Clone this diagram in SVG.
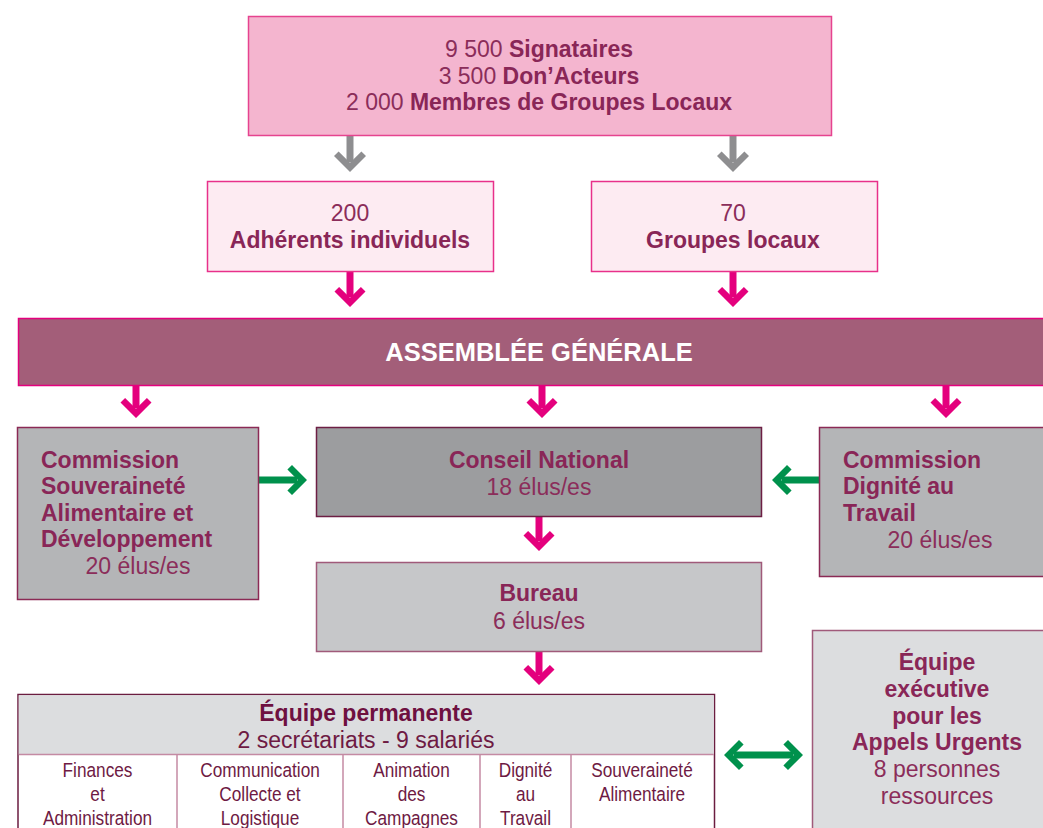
<svg xmlns="http://www.w3.org/2000/svg" width="1043" height="828" viewBox="0 0 1043 828">
<defs>
<style>
text{font-family:"Liberation Sans",Arial,Helvetica,sans-serif;font-size:23px;fill:#8b2d5a}
.b{font-weight:bold;fill:#892657}
.c{text-anchor:middle}
.w{fill:#ffffff;font-weight:bold;font-size:25.5px}
.h{font-size:23px;fill:#6e1a43}
.hb{font-size:23px;font-weight:bold;fill:#6e1040}
.t{font-size:20.5px;fill:#6e1a43;text-anchor:middle}
.gray{stroke:#8e8e90;stroke-width:7;fill:none}
.pink{stroke:#e4007d;stroke-width:7;fill:none}
.green{stroke:#00914c;stroke-width:7;fill:none}
</style>
<marker id="mg" viewBox="-21 -17 22 34" markerWidth="22" markerHeight="34" refX="-10" refY="0" orient="auto" markerUnits="userSpaceOnUse">
<path d="M0,0 L-16,-16 L-20.6,-11.4 L-9.2,0 L-20.6,11.4 L-16,16 Z" fill="#8e8e90"/>
</marker>
<marker id="mp" viewBox="-21 -17 22 34" markerWidth="22" markerHeight="34" refX="-10" refY="0" orient="auto" markerUnits="userSpaceOnUse">
<path d="M0,0 L-15.5,-15.5 L-20.1,-10.9 L-9.2,0 L-20.1,10.9 L-15.5,15.5 Z" fill="#e4007d"/>
</marker>
<marker id="mgr" viewBox="-21 -17 22 34" markerWidth="22" markerHeight="34" refX="-10" refY="0" orient="auto-start-reverse" markerUnits="userSpaceOnUse">
<path d="M0,0 L-15,-15 L-19.6,-10.4 L-9.2,0 L-19.6,10.4 L-15,15 Z" fill="#00914c"/>
</marker>
</defs>
<rect width="1043" height="828" fill="#ffffff"/>

<g id="connectors">
<line class="gray" x1="350" y1="136" x2="350" y2="162" marker-end="url(#mg)"/>
<line class="gray" x1="733" y1="136" x2="733" y2="162" marker-end="url(#mg)"/>
<line class="pink" x1="350" y1="272" x2="350" y2="297" marker-end="url(#mp)"/>
<line class="pink" x1="733" y1="272" x2="733" y2="297" marker-end="url(#mp)"/>
<line class="pink" x1="136" y1="386" x2="136" y2="408" marker-end="url(#mp)"/>
<line class="pink" x1="542" y1="386" x2="542" y2="408" marker-end="url(#mp)"/>
<line class="pink" x1="946" y1="386" x2="946" y2="408" marker-end="url(#mp)"/>
<line class="pink" x1="539" y1="517" x2="539" y2="541" marker-end="url(#mp)"/>
<line class="pink" x1="539" y1="652" x2="539" y2="675" marker-end="url(#mp)"/>
<line class="green" x1="259" y1="480" x2="297" y2="480" marker-end="url(#mgr)"/>
<line class="green" x1="819" y1="480" x2="782" y2="480" marker-end="url(#mgr)"/>
<line class="green" x1="734" y1="755" x2="793" y2="755" marker-start="url(#mgr)" marker-end="url(#mgr)"/>
</g>

<g id="membres">
<rect x="248.5" y="16.5" width="583" height="119" fill="#f4b5cf" stroke="#e6438f" stroke-width="1.5"/>
<text class="c" x="539" y="57">9 500 <tspan class="b">Signataires</tspan></text>
<text class="c" x="539" y="84">3 500 <tspan class="b">Don’Acteurs</tspan></text>
<text class="c" x="539" y="110">2 000 <tspan class="b">Membres de Groupes Locaux</tspan></text>
</g>

<g id="adherents">
<rect x="207.5" y="181.5" width="286" height="90" fill="#fdebf2" stroke="#e8308a" stroke-width="1.5"/>
<text class="c" x="350" y="221">200</text>
<text class="c b" x="350" y="248">Adhérents individuels</text>
</g>

<g id="groupes">
<rect x="591.5" y="181.5" width="286" height="90" fill="#fdebf2" stroke="#e8308a" stroke-width="1.5"/>
<text class="c" x="733" y="221">70</text>
<text class="c b" x="733" y="248">Groupes locaux</text>
</g>

<g id="assemblee">
<rect x="18.5" y="318.5" width="1030" height="67" fill="#a35e79" stroke="#e4007d" stroke-width="1.5"/>
<text class="c w" x="539" y="361">ASSEMBLÉE GÉNÉRALE</text>
</g>

<g id="commission-sad">
<rect x="17.5" y="427.5" width="241" height="172" fill="#b4b5b7" stroke="#8b2a55" stroke-width="1.5"/>
<text class="b" x="41" y="468">Commission</text>
<text class="b" x="41" y="494">Souveraineté</text>
<text class="b" x="41" y="521">Alimentaire et</text>
<text class="b" x="41" y="547">Développement</text>
<text class="c" x="138" y="574">20 élus/es</text>
</g>

<g id="conseil">
<rect x="316.5" y="427.5" width="445" height="89" fill="#9c9d9f" stroke="#6d1f44" stroke-width="1.5"/>
<text class="c b" x="539" y="468">Conseil National</text>
<text class="c" x="539" y="495">18 élus/es</text>
</g>

<g id="commission-dt">
<rect x="819.5" y="427.5" width="230" height="149" fill="#b4b5b7" stroke="#8b2a55" stroke-width="1.5"/>
<text class="b" x="843" y="468">Commission</text>
<text class="b" x="843" y="494">Dignité au</text>
<text class="b" x="843" y="521">Travail</text>
<text class="c" x="940" y="548">20 élus/es</text>
</g>

<g id="bureau">
<rect x="316.5" y="562.5" width="445" height="89" fill="#c6c7c9" stroke="#a05a7a" stroke-width="1.5"/>
<text class="c b" x="539" y="601">Bureau</text>
<text class="c" x="539" y="629">6 élus/es</text>
</g>

<g id="equipe-permanente">
<rect x="18" y="694.5" width="696.5" height="140" fill="#ffffff" stroke="#6b1d40" stroke-width="1.5"/>
<rect x="18.75" y="695.25" width="695" height="59" fill="#dcdddf"/>
<line x1="18.75" y1="754.5" x2="713.75" y2="754.5" stroke="#c48aa3" stroke-width="1.5"/>
<line x1="177" y1="754.5" x2="177" y2="828" stroke="#c48aa3" stroke-width="1.5"/>
<line x1="343" y1="754.5" x2="343" y2="828" stroke="#c48aa3" stroke-width="1.5"/>
<line x1="480" y1="754.5" x2="480" y2="828" stroke="#c48aa3" stroke-width="1.5"/>
<line x1="571" y1="754.5" x2="571" y2="828" stroke="#c48aa3" stroke-width="1.5"/>
<text class="c hb" x="366" y="721">Équipe permanente</text>
<text class="c h" x="366" y="748">2 secrétariats - 9 salariés</text>
<g transform="translate(97.5 0) scale(0.84 1)">
<text class="t" x="0" y="777">Finances</text>
<text class="t" x="0" y="801">et</text>
<text class="t" x="0" y="825">Administration</text>
</g>
<g transform="translate(260 0) scale(0.84 1)">
<text class="t" x="0" y="777">Communication</text>
<text class="t" x="0" y="801">Collecte et</text>
<text class="t" x="0" y="825">Logistique</text>
</g>
<g transform="translate(411.5 0) scale(0.84 1)">
<text class="t" x="0" y="777">Animation</text>
<text class="t" x="0" y="801">des</text>
<text class="t" x="0" y="825">Campagnes</text>
</g>
<g transform="translate(525.5 0) scale(0.84 1)">
<text class="t" x="0" y="777">Dignité</text>
<text class="t" x="0" y="801">au</text>
<text class="t" x="0" y="825">Travail</text>
</g>
<g transform="translate(642 0) scale(0.84 1)">
<text class="t" x="0" y="777">Souveraineté</text>
<text class="t" x="0" y="801">Alimentaire</text>
</g>
</g>

<g id="equipe-executive">
<rect x="812.5" y="630.5" width="240" height="210" fill="#dcdddf" stroke="#a05a7a" stroke-width="1.5"/>
<text class="c b" x="937" y="670">Équipe</text>
<text class="c b" x="937" y="697">exécutive</text>
<text class="c b" x="937" y="724">pour les</text>
<text class="c b" x="937" y="750">Appels Urgents</text>
<text class="c" x="937" y="777">8 personnes</text>
<text class="c" x="937" y="804">ressources</text>
</g>
</svg>
